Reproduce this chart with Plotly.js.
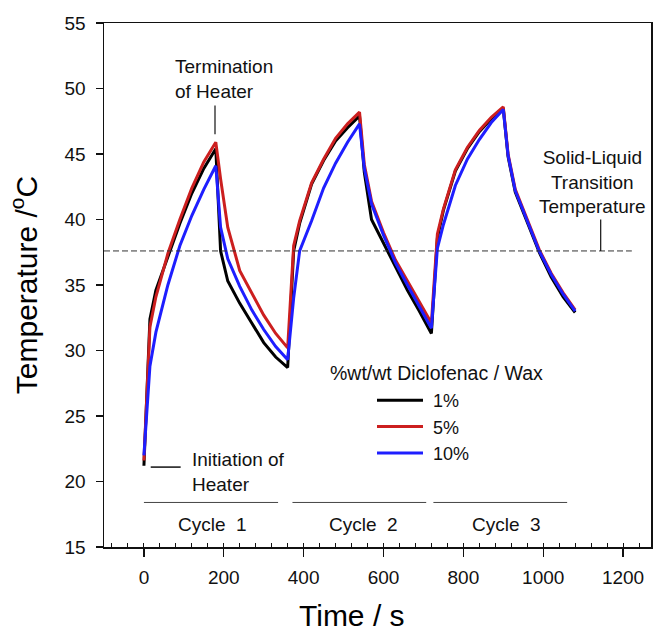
<!DOCTYPE html>
<html>
<head>
<meta charset="utf-8">
<script src="https://cdn.plot.ly/plotly-3.0.1.min.js"></script>
<style>html,body{margin:0;padding:0;background:#fff;}#chart{width:653px;height:631px;}</style>
</head>
<body>
<div id="chart"></div>
<script>
// Time (s)
const time = [0,15,30,60,90,120,150,180,192,210,240,270,300,330,360,
  375,390,420,450,480,510,540,552,570,600,630,660,690,720,
  735,750,780,810,840,870,900,912,930,960,990,1020,1050,1080];
// Temperature (°C) per %wt/wt Diclofenac / Wax
const temp1 = [21.2,32.4,34.6,37.2,39.7,42.0,43.9,45.4,37.6,35.3,33.6,32.1,30.6,29.5,28.7,
  37.6,39.7,42.7,44.5,46.0,47.0,47.9,43.6,40.0,38.2,36.3,34.6,33.0,31.3,
  38.6,40.7,43.7,45.4,46.7,47.7,48.5,44.8,42.1,39.8,37.5,35.6,34.1,32.9];
const temp5 = [21.6,31.8,34.1,37.4,40.0,42.4,44.4,45.9,43.1,39.4,36.1,34.4,32.7,31.3,30.2,
  38.0,39.9,42.8,44.6,46.2,47.3,48.2,44.2,41.4,39.0,36.9,35.3,33.8,32.1,
  38.9,40.8,43.8,45.5,46.8,47.8,48.6,45.0,42.3,40.0,37.7,35.9,34.4,33.1];
const temp10 = [22.0,28.8,31.4,35.0,38.0,40.3,42.3,44.1,39.4,37.0,34.9,33.1,31.6,30.3,29.3,
  34.0,37.6,39.9,42.4,44.3,45.9,47.3,43.9,41.2,38.8,36.7,35.0,33.4,31.7,
  37.8,39.6,42.6,44.6,46.1,47.4,48.4,44.9,42.2,39.9,37.6,35.8,34.3,33.0];
const seriesNames = ['1%','5%','10%'];
const seriesColors = ['#000000','#cc1f1f','#1e1eff'];
const transitionTemp = 37.6;
const cycleLabels = ['Cycle\u00a0\u00a01','Cycle\u00a0\u00a02','Cycle\u00a0\u00a03'];
const cycleStart = [0,372,725];
const cycleEnd = [336,707,1060];
const xTickVals = [0,200,400,600,800,1000,1200];
const yTickVals = [15,20,25,30,35,40,45,50,55];

const FONT = 'Arial, "Liberation Sans", Helvetica, sans-serif';
const series = [temp1,temp5,temp10];
const traces = series.map((s,i)=>({
  x: time, y: s, type:'scatter', mode:'lines', name: '\u00a0' + seriesNames[i],
  line:{color: seriesColors[i], width:3}
}));

const shapes = [
  {type:'line', xref:'x', yref:'y', x0:-100, x1:1222, y0:transitionTemp, y1:transitionTemp,
   line:{color:'#333', width:1, dash:'6px,3px'}},
  {type:'line', xref:'x', yref:'y', x0:1144, x1:1144, y0:transitionTemp, y1:40.0, line:{color:'#111', width:1.2}},
  {type:'line', xref:'x', yref:'y', x0:178, x1:178, y0:46.5, y1:48.7, line:{color:'#111', width:1.2}},
  {type:'line', xref:'x', yref:'y', x0:17, x1:92, y0:21.1, y1:21.1, line:{color:'#111', width:1.5}}
];
cycleStart.forEach((c,i)=>{
  shapes.push({type:'line', xref:'x', yref:'y', x0:c, x1:cycleEnd[i], y0:18.4, y1:18.4, line:{color:'#444', width:1}});
});

const annFont = {family:FONT, size:19, color:'#111'};
const annotations = [
  {xref:'x', yref:'y', x:72, y:50.7, xanchor:'left', yanchor:'middle', align:'left', showarrow:false,
   text:'Termination<br>of Heater', font:annFont},
  {xref:'x', yref:'y', x:115, y:20.7, xanchor:'left', yanchor:'middle', align:'left', showarrow:false,
   text:'Initiation of<br>Heater', font:annFont},
  {xref:'x', yref:'y', x:1124, y:42.9, xanchor:'center', yanchor:'middle', align:'center', showarrow:false,
   text:'Solid-Liquid<br>Transition<br>Temperature', font:annFont},
  {xref:'x', yref:'y', x:462, y:28.3, xanchor:'left', yanchor:'middle', showarrow:false,
   text:'%wt/wt Diclofenac / Wax', font:{family:FONT, size:19.5, color:'#111'}},
  {xref:'paper', yref:'paper', x:(352-104)/547, y:(631-615-84)/524, xanchor:'center', yanchor:'middle', showarrow:false,
   text:'Time / s', font:{family:FONT, size:30, color:'#000'}}
];
const cycleCenters = [171,551,908];
cycleLabels.forEach((t,i)=>{
  annotations.push({xref:'x', yref:'y', x:cycleCenters[i], y:16.75, xanchor:'center', yanchor:'middle', showarrow:false,
    text:t, font:annFont});
});

const layout = {
  width:653, height:631,
  margin:{l:104, r:2, t:23, b:84, pad:0},
  paper_bgcolor:'#fff', plot_bgcolor:'#fff',
  font:{family:FONT, size:19, color:'#111'},
  showlegend:true,
  legend:{x:(372-104)/547, y:(631-84-382)/524, xanchor:'left', yanchor:'top',
    bgcolor:'rgba(0,0,0,0)', borderwidth:0, font:{family:FONT, size:18, color:'#111'},
    tracegroupgap:0, itemwidth:46},
  xaxis:{range:[-100,1270], tickvals:xTickVals, ticks:'outside', ticklen:8, tickwidth:1.3, tickcolor:'#111',
    showline:true, linecolor:'#111', linewidth:1.5, mirror:true, showgrid:false, zeroline:false,
    tickfont:{family:FONT, size:19, color:'#111'}, ticklabelstandoff:5,
    minor:{dtick:40, tick0:0, ticks:'inside', ticklen:4, tickwidth:1, tickcolor:'#111', showgrid:false}},
  yaxis:{range:[15,55], tickvals:yTickVals, ticks:'outside', ticklen:7, tickwidth:1.3, tickcolor:'#111',
    showline:true, linecolor:'#111', linewidth:1.5, mirror:true, showgrid:false, zeroline:false,
    tickfont:{family:FONT, size:19, color:'#111'}, ticklabelstandoff:6,
    title:{text:'Temperature /<sup>o</sup>C', font:{family:FONT, size:30, color:'#000'}, standoff:18}},
  shapes:shapes,
  annotations:annotations
};
Plotly.newPlot('chart', traces, layout, {displayModeBar:false, staticPlot:true});
</script>
</body>
</html>
